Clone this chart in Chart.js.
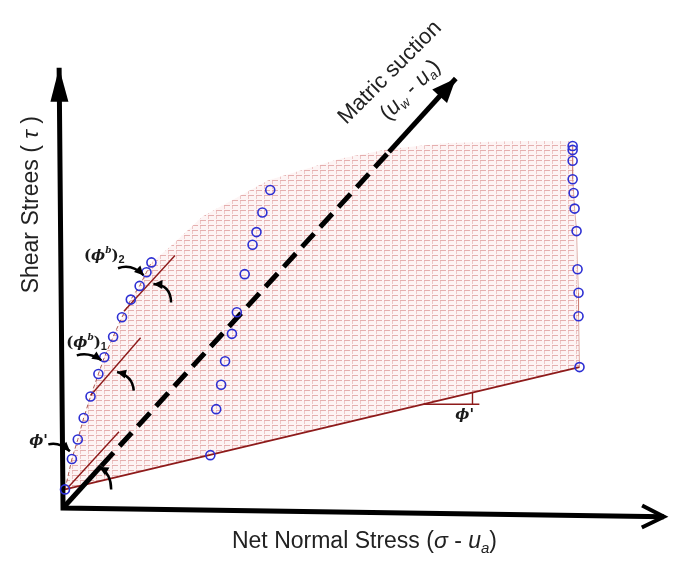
<!DOCTYPE html>
<html>
<head>
<meta charset="utf-8">
<script src="https://cdn.jsdelivr.net/npm/chart.js@4.4.0/dist/chart.umd.min.js"></script>
<style>
  html, body { margin: 0; padding: 0; background: #fff; }
  #wrap { width: 673px; height: 563px; }
</style>
</head>
<body>
<div id="wrap"><canvas id="chart" width="673" height="563"></canvas></div>
<script>
// ---------- Data (net normal stress, shear stress) ----------
// test points at three suction levels
const lowSuctionPts = [[2, 19], [9, 50], [15, 70], [21, 92], [28, 114], [36, 137], [42, 154], [51, 175], [60, 195], [69, 213], [78, 227], [85, 241], [90, 251]];
const midSuctionPts = [[211, 325], [203, 302], [197, 282], [193, 269], [185, 239], [177, 200], [172, 178], [165, 150], [161, 126], [156, 101], [150, 54]];
const highSuctionPts = [[519, 370], [519, 366], [519, 355], [519, 336], [520, 322], [521, 306], [523, 283], [524, 244], [525, 220], [525, 196], [526, 144]];

// upper edge of the failure surface (between the low and high suction columns)
const surfaceTop = [[109, 267], [142, 298], [209, 335], [282, 357], [332, 367], [392, 373], [462, 375], [519, 375]];

// envelope lines
const phiPrimeLine = [[2, 19], [526, 144]];
const phiPrimeTangent = [[5, 21], [57, 78]];
const phiB1Tangent = [[28, 115], [79, 174]];
const phiB2Tangent = [[62, 201], [114, 258]];
const phiPrimeMarkH = [[367, 106], [424, 106]];
const phiPrimeMarkV = [[417, 106], [417, 118]];

// axes and suction direction
const axisLine = [[-4, 450], [0, 0], [612, -9]];
const suctionAxis = [[0, 0], [39, 43], [332, 364], [400, 439]];

// small curved pointers: start, control, end (arrow at end)
const curvedPointers = [
    [[56, 245], [70, 250], [82, 238]],
    [[110, 210], [110, 228], [92, 229]],
    [[14, 156], [26, 160], [39, 151]],
    [[72, 120], [71, 135], [55, 139]],
    [[-15, 65], [-4, 68], [7, 58]],
    [[49, 19], [49, 35], [37, 42]]
];

const toXY = arr => arr.map(p => ({ x: p[0], y: p[1] }));

// ---------- Mesh pattern for the surface ----------
function meshPattern() {
    const pc = document.createElement('canvas');
    pc.width = 8; pc.height = 5;
    const g = pc.getContext('2d');
    g.fillStyle = '#fdf4f4';
    g.fillRect(0, 0, 8, 5);
    g.fillStyle = 'rgba(214,128,128,0.6)';
    g.fillRect(0, 0, 6, 1);
    g.fillStyle = 'rgba(214,128,128,0.4)';
    g.fillRect(0, 1, 1, 3);
    return g.createPattern(pc, 'repeat');
}

const surfacePoly = [...lowSuctionPts, ...surfaceTop, highSuctionPts[highSuctionPts.length - 1], lowSuctionPts[0]];

const RED = '#8e1b1b';
const lineDs = (data, color, width, extra) => Object.assign({
    type: 'line', data: toXY(data), borderColor: color, borderWidth: width,
    pointRadius: 0, fill: false, tension: 0, order: 5
}, extra || {});
const pointDs = data => ({
    type: 'scatter', data: toXY(data), pointRadius: 4.5, pointHoverRadius: 4.5,
    borderColor: '#2d2fd3', borderWidth: 1.6, backgroundColor: 'rgba(0,0,0,0)', order: 1
});

// ---------- Text helpers ----------
function drawRuns(ctx, runs, x, y) {
    let w = 0;
    runs.forEach(r => { ctx.font = r.font; w += ctx.measureText(r.t).width; });
    let cx = x - w / 2;
    runs.forEach(r => {
        ctx.font = r.font;
        ctx.fillText(r.t, cx, y + (r.dy || 0));
        cx += ctx.measureText(r.t).width;
    });
}

function arrowHead(ctx, from, to, len, half, filled) {
    const a = Math.atan2(to[1] - from[1], to[0] - from[0]);
    const bx = to[0] - len * Math.cos(a), by = to[1] - len * Math.sin(a);
    const nx = -Math.sin(a) * half, ny = Math.cos(a) * half;
    ctx.beginPath();
    ctx.moveTo(bx + nx, by + ny);
    ctx.lineTo(to[0], to[1]);
    ctx.lineTo(bx - nx, by - ny);
    if (filled) { ctx.closePath(); ctx.fill(); } else ctx.stroke();
}

const SANS = '"Liberation Sans", Arial, sans-serif';
const SERIF = '"DejaVu Serif", "Liberation Serif", serif';

const overlay = {
    id: 'overlay',
    afterDatasetsDraw(chart) {
        const { ctx, scales: { x, y } } = chart;
        const P = p => [x.getPixelForValue(p[0]), y.getPixelForValue(p[1])];
        ctx.save();
        ctx.fillStyle = '#000';
        ctx.strokeStyle = '#000';

        // axis arrowheads
        arrowHead(ctx, P(axisLine[1]), P(axisLine[0]), 34, 9, true);
        ctx.lineWidth = 4;
        ctx.lineJoin = 'miter';
        arrowHead(ctx, P(axisLine[1]), P(axisLine[2]), 22, 11, false);
        // suction arrowhead
        arrowHead(ctx, P(suctionAxis[2]), P(suctionAxis[3]), 24, 10, true);

        // curved pointers
        curvedPointers.forEach(c => {
            const s = P(c[0]), k = P(c[1]), e = P(c[2]);
            ctx.lineWidth = 2.5;
            ctx.beginPath();
            ctx.moveTo(s[0], s[1]);
            ctx.quadraticCurveTo(k[0], k[1], e[0], e[1]);
            ctx.stroke();
            arrowHead(ctx, k, e, 9, 4.5, true);
        });

        ctx.fillStyle = '#1a1a1a';
        ctx.textBaseline = 'alphabetic';
        // angle labels
        const bold = sz => 'bold italic ' + sz + 'px ' + SERIF;
        const lbl = (pos, sub) => {
            const p = P(pos);
            drawRuns(ctx, [
                { t: '(', font: 'bold 15px ' + SERIF },
                { t: 'ϕ', font: bold(15) },
                { t: 'b', font: bold(9), dy: -7 },
                { t: ')', font: 'bold 15px ' + SERIF },
                { t: sub, font: 'bold 11px ' + SANS, dy: 3 }
            ], p[0], p[1]);
        };
        lbl([42, 253], '2');
        lbl([24, 165], '1');
        let p = P([-25, 64]);
        drawRuns(ctx, [{ t: 'ϕ\'', font: bold(15) }], p[0], p[1]);
        p = P([409, 91]);
        drawRuns(ctx, [{ t: 'ϕ\'', font: bold(15) }], p[0], p[1]);

        // axis titles
        ctx.fillStyle = '#222';
        p = P([307, -41]);
        drawRuns(ctx, [
            { t: 'Net Normal Stress (', font: '23px ' + SANS },
            { t: 'σ', font: 'italic 23px ' + SANS },
            { t: ' - ', font: '23px ' + SANS },
            { t: 'u', font: 'italic 23px ' + SANS },
            { t: 'a', font: 'italic 15px ' + SANS, dy: 5 },
            { t: ')', font: '23px ' + SANS }
        ], p[0], p[1]);

        ctx.textBaseline = 'middle';
        p = P([-32, 310]);
        ctx.save();
        ctx.translate(p[0], p[1]);
        ctx.rotate(-Math.PI / 2);
        drawRuns(ctx, [
            { t: 'Shear Strees ( ', font: '23px ' + SANS },
            { t: 'τ', font: 'italic 23px ' + SANS },
            { t: ' )', font: '23px ' + SANS }
        ], 0, 0);
        ctx.restore();

        p = P([333, 445]);
        ctx.save();
        ctx.translate(p[0], p[1]);
        ctx.rotate(-Math.PI / 4);
        drawRuns(ctx, [{ t: 'Matric suction', font: '22px ' + SANS }], 0, 0);
        ctx.restore();

        p = P([354, 427]);
        ctx.save();
        ctx.translate(p[0], p[1]);
        ctx.rotate(-Math.PI / 4);
        drawRuns(ctx, [
            { t: '(', font: '22px ' + SANS },
            { t: 'u', font: 'italic 22px ' + SANS },
            { t: 'w', font: 'italic 13px ' + SANS, dy: 6 },
            { t: ' - ', font: '22px ' + SANS },
            { t: 'u', font: 'italic 22px ' + SANS },
            { t: 'a', font: 'italic 13px ' + SANS, dy: 6 },
            { t: ')', font: '22px ' + SANS }
        ], 0, 0);
        ctx.restore();

        ctx.restore();
    }
};

// ---------- Chart ----------
const chart = new Chart(document.getElementById('chart').getContext('2d'), {
    type: 'scatter',
    data: {
        datasets: [
            lineDs(surfacePoly, 'rgba(0,0,0,0)', 0, { fill: 'shape', backgroundColor: meshPattern(), order: 10 }),
            lineDs(lowSuctionPts, 'rgba(150,50,40,0.8)', 1, { borderDash: [4, 3], order: 6 }),
            lineDs(highSuctionPts, 'rgba(200,120,110,0.6)', 1, { order: 6 }),
            lineDs(phiPrimeLine, RED, 1.6),
            lineDs(phiPrimeTangent, RED, 1.4),
            lineDs(phiB1Tangent, RED, 1.4),
            lineDs(phiB2Tangent, RED, 1.4),
            lineDs(phiPrimeMarkH, RED, 1.4),
            lineDs(phiPrimeMarkV, RED, 1.4),
            lineDs(axisLine, '#000', 5, { borderJoinStyle: 'miter', order: 3 }),
            lineDs(suctionAxis, '#000', 5, {
                order: 3,
                segment: { borderDash: c => c.p0DataIndex === 1 ? [18, 9] : [] }
            }),
            pointDs(lowSuctionPts),
            pointDs(midSuctionPts),
            pointDs(highSuctionPts)
        ]
    },
    options: {
        responsive: false,
        animation: false,
        devicePixelRatio: 1,
        layout: { padding: 0 },
        plugins: { legend: { display: false }, tooltip: { enabled: false } },
        scales: {
            x: { type: 'linear', min: -58, max: 615, display: false },
            y: { type: 'linear', min: -50, max: 513, display: false }
        }
    },
    plugins: [overlay]
});
</script>
</body>
</html>
